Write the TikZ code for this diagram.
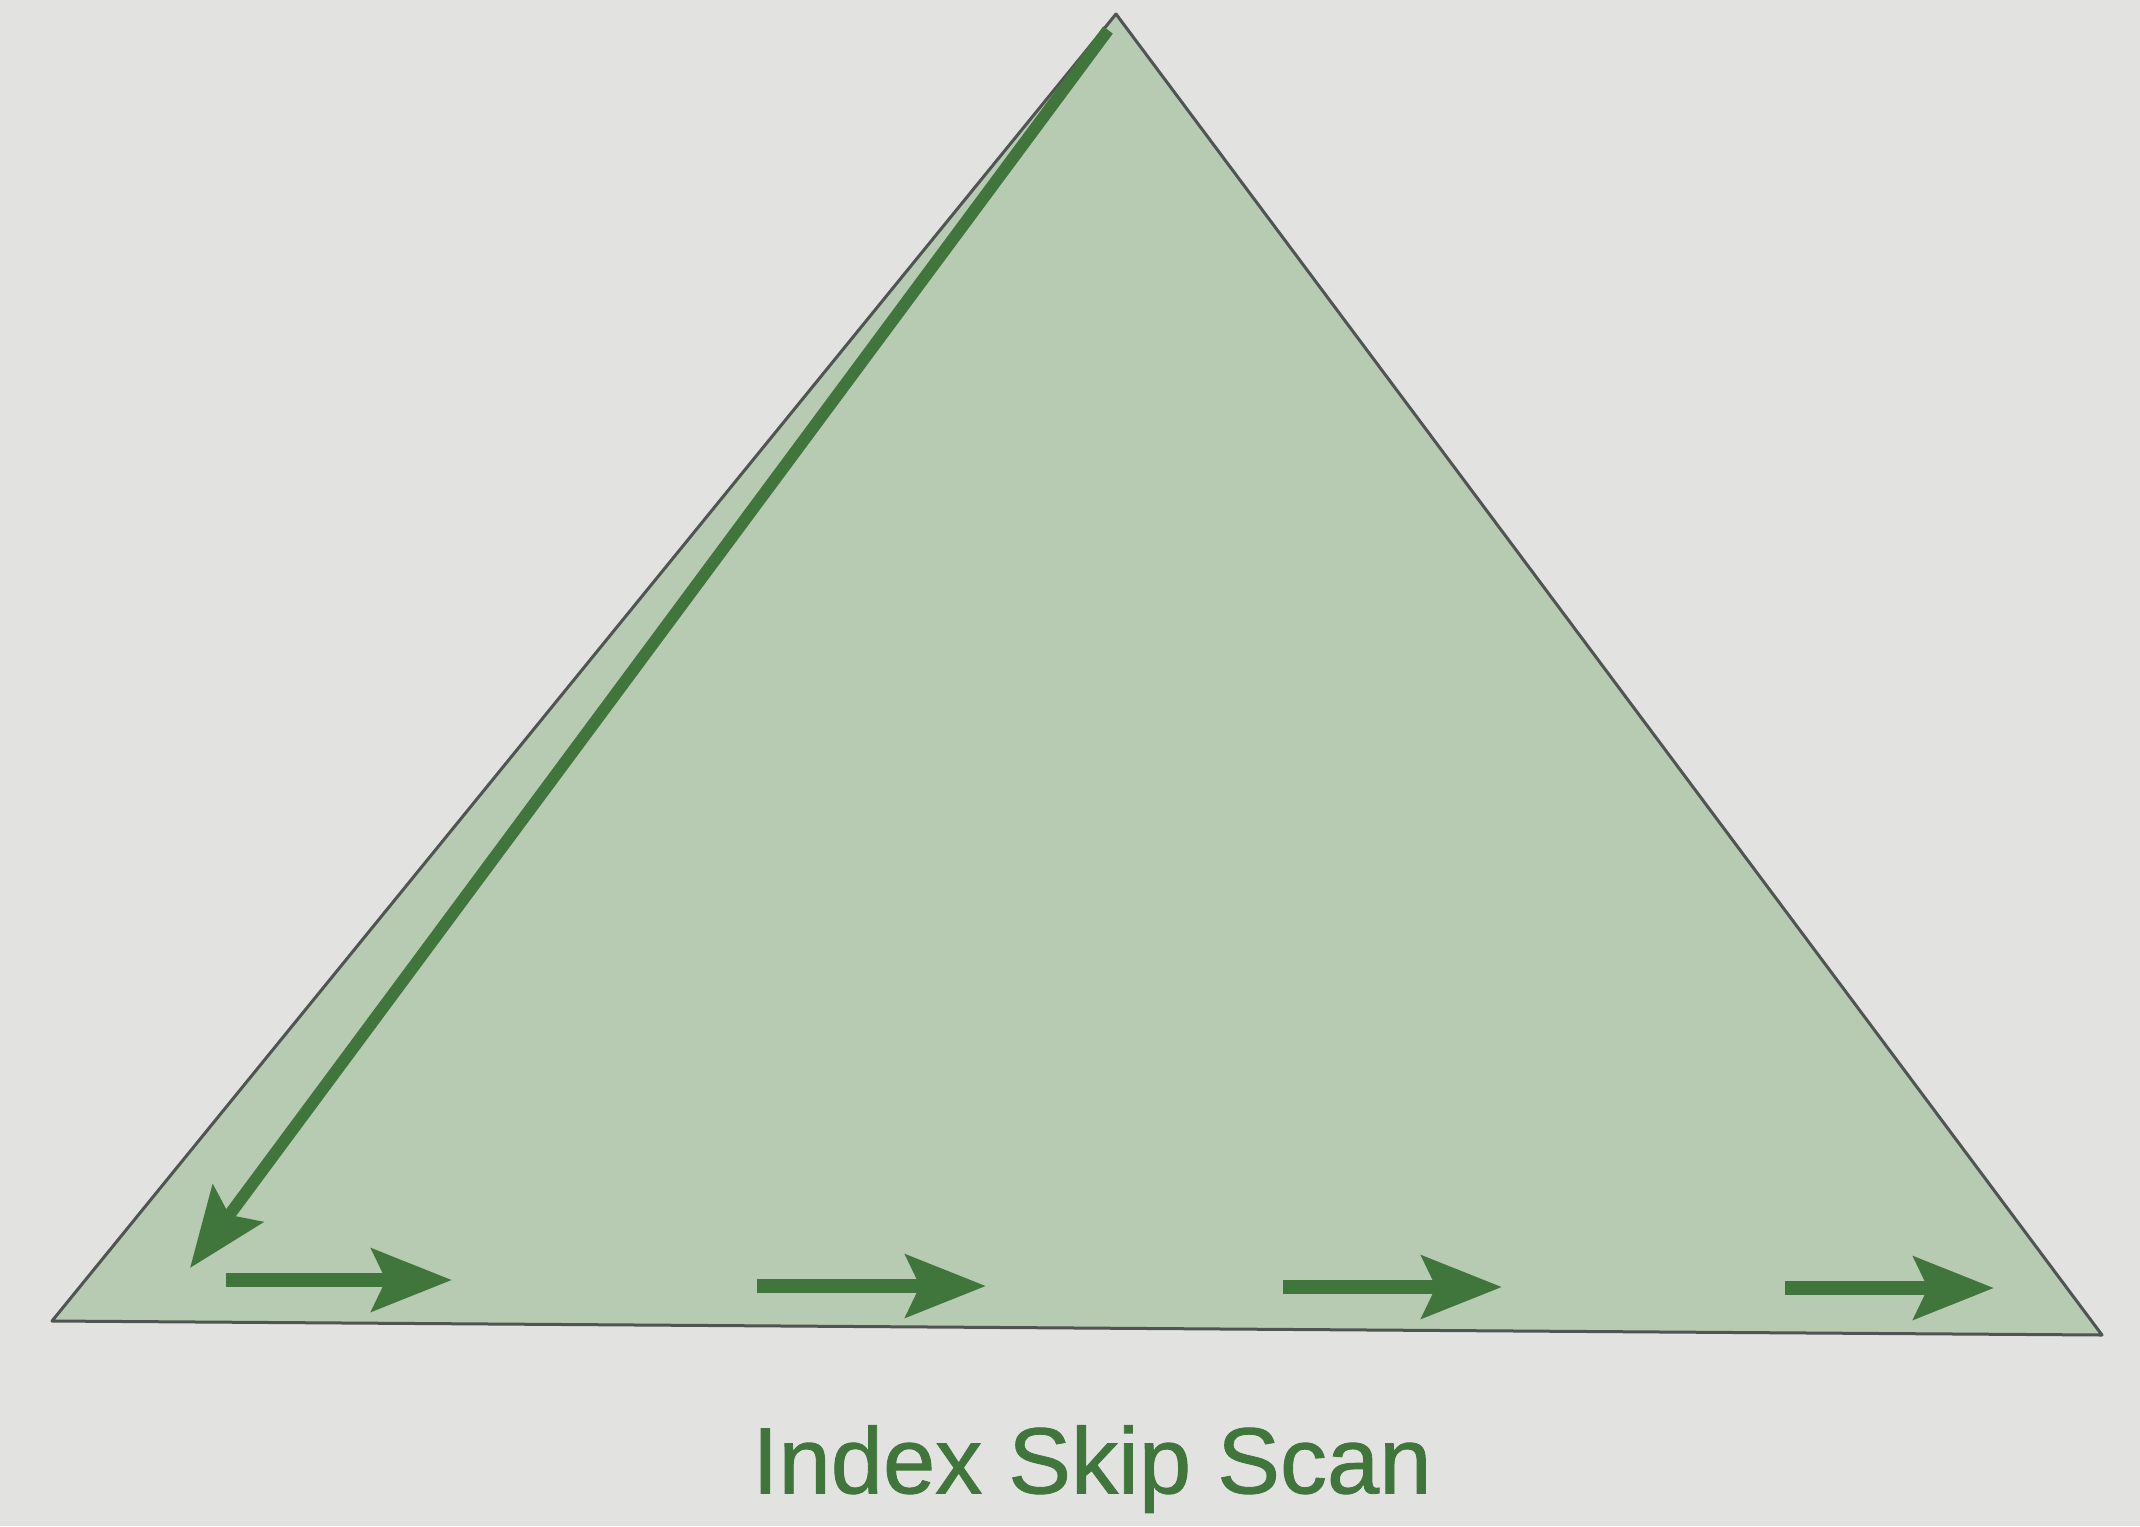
\documentclass[tikz,border=0pt]{standalone}
\usepackage{fontspec}
\setmainfont{Liberation Sans}
\newfontfamily\captionfont{Liberation Sans}[FakeBold=0.9]
\usetikzlibrary{arrows.meta}
\definecolor{page}{RGB}{226,227,225}
\definecolor{leaf}{RGB}{183,202,178}
\definecolor{ink}{RGB}{64,118,60}
\definecolor{edge}{RGB}{80,84,82}
\begin{document}
\begin{tikzpicture}[x=0.5pt,y=-0.5pt]

    \tikzset{
      scanarrow/.style={
        draw=ink,
        line width=7pt,
        -{Stealth[length=40pt,width=31pt,inset=7pt]},
      },
      caption/.style={
        text=ink,
        font=\captionfont\fontsize{47}{56}\selectfont,
        anchor=center,
      },
    }
    \fill[page] (0,0) rectangle (2140,1526);
    % index tree
    \coordinate (root) at (1116,14);
    \coordinate (leftleaf) at (52,1321);
    \coordinate (rightleaf) at (2102,1335);
    \filldraw[fill=leaf,draw=edge,line width=1.5pt,line join=round] (root)--(leftleaf)--(rightleaf)--cycle;
    % descent to the first leaf
    \coordinate (d0) at (1108,30);
    \coordinate (d1) at (190,1268);
    \draw[scanarrow,line width=6pt] (d0)--(d1);
    % skips along the leaves
    \coordinate (s1) at (226,1280);
    \coordinate (e1) at (452,1280);
    \coordinate (s2) at (757,1286);
    \coordinate (e2) at (986,1286);
    \coordinate (s3) at (1283,1287);
    \coordinate (e3) at (1502,1287);
    \coordinate (s4) at (1785,1288);
    \coordinate (e4) at (1994,1288);
    \foreach \i in {1,...,4}
      \draw[scanarrow] (s\i)--(e\i);
    \node[caption] (title) at (1092,1469) {Index Skip Scan};

\end{tikzpicture}
\end{document}
